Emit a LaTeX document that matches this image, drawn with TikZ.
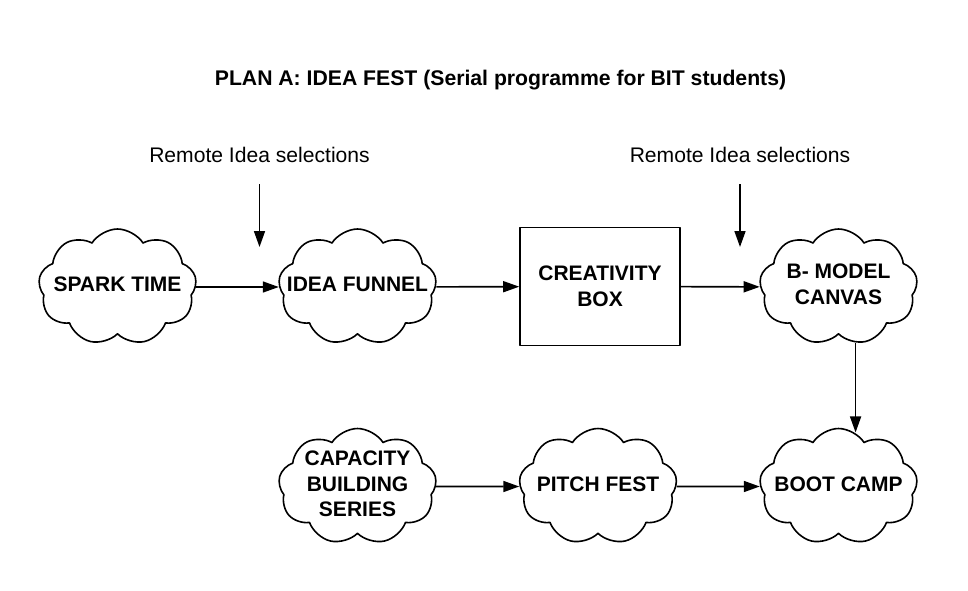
\documentclass[tikz,border=0pt]{standalone}
\usepackage{fontspec}
\setmainfont{Liberation Sans}
\usetikzlibrary{shapes.symbols,arrows.meta}

\tikzset{
  nuage/.style={draw, line width=1.6pt, cloud, cloud puffs=9, cloud puff arc=115,
    minimum width=158pt, minimum height=116pt, inner sep=0pt},
  boite/.style={draw, line width=1.6pt, minimum width=160pt, minimum height=118pt,
    font=\fontsize{21}{25.5}\selectfont\bfseries, align=center},
  etiq/.style={font=\fontsize{21}{25.5}\selectfont\bfseries, align=center, inner sep=0pt, yshift=2.5pt},
  fleche/.style={line width=1.6pt, -{Triangle[length=16pt,width=11pt]}},
}

\begin{document}
\begin{tikzpicture}[x=1pt, y=-1pt, line join=round]

    \useasboundingbox (0,0) rectangle (968,590);

    % Titre
    \node[font=\fontsize{21.2}{26}\selectfont\bfseries] (titre) at (500.5,80) {PLAN A: IDEA FEST (Serial programme for BIT students)};

    % Sélections à distance
    \node[font=\fontsize{21.1}{26}\selectfont] (remote1) at (259.5,155) {Remote Idea selections};
    \node[font=\fontsize{21.1}{26}\selectfont] (remote2) at (740,155) {Remote Idea selections};
    \coordinate (sel1) at (259.5,247);
    \coordinate (sel2) at (740,247);

    % Première ligne
    \node[nuage, label={[etiq]center:SPARK TIME}] (spark) at (117.5,287) {};
    \node[nuage, label={[etiq]center:IDEA FUNNEL}] (funnel) at (357.5,287) {};
    \node[boite] (box) at (600,286.5) {CREATIVITY\\BOX};
    \node[nuage, label={[etiq]center:{B- MODEL\\CANVAS}}] (canvas) at (838.5,287) {};

    % Deuxième ligne
    \node[nuage, label={[etiq]center:{CAPACITY\\BUILDING\\SERIES}}] (capacity) at (357.5,486.5) {};
    \node[nuage, label={[etiq]center:PITCH FEST}] (pitch) at (598,486.5) {};
    \node[nuage, label={[etiq]center:BOOT CAMP}] (boot) at (838.5,486.5) {};

    % Flèches
    \draw[fleche] ([yshift=-18pt]remote1.south) -- (sel1);
    \draw[fleche] ([yshift=-18pt]remote2.south) -- (sel2);
    \draw[fleche] (spark) -- (funnel);
    \draw[fleche] (funnel) -- (box);
    \draw[fleche] (box) -- (canvas);
    \draw[fleche] (canvas.-73) -- (canvas.-73 |- boot.73);
    \draw[fleche] (capacity) -- (pitch);
    \draw[fleche] (pitch) -- (boot);

\end{tikzpicture}
\end{document}
